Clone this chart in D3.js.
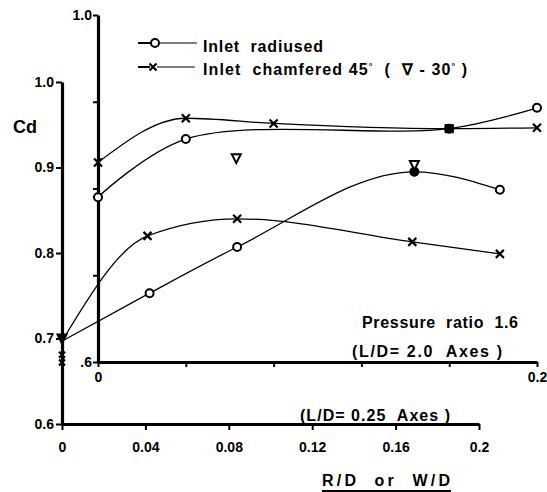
<!DOCTYPE html>
<html>
<head>
<meta charset="utf-8">
<script src="https://cdn.jsdelivr.net/npm/d3@7"></script>
<style>
body{margin:0;background:#fff;}
svg text{font-family:"Liberation Sans",Arial,sans-serif;font-weight:bold;fill:#000;white-space:pre;}
</style>
</head>
<body>
<div id="display"></div>
<script>
// L/D = 0.25 axes (outer)
var radX025 = [0, 0.042, 0.084, 0.169, 0.21]
var radCd025 = [0.697, 0.753, 0.807, 0.895, 0.874]
var chamX025 = [0, 0.041, 0.084, 0.168, 0.21]
var chamCd025 = [0.697, 0.82, 0.84, 0.813, 0.799]
var chamExtraCd025 = [0.681, 0.672]   // extra x marks at R/D = 0

// L/D = 2.0 axes (inner)
var radX20 = [0, 0.04, 0.16, 0.2]
var radCd20 = [0.79, 0.857, 0.869, 0.893]
var chamX20 = [0, 0.04, 0.08, 0.16, 0.2]
var chamCd20 = [0.83, 0.881, 0.875, 0.869, 0.87]

// 30 deg chamfer (triangles)
var triX025 = [0, 0.169]
var triCd025 = [0.7, 0.903]
var triX20 = [0.063]
var triCd20 = [0.835]

var outerXTicks = [0, 0.04, 0.08, 0.12, 0.16, 0.2]
var outerXLabels = ["0", "0.04", "0.08", "0.12", "0.16", "0.2"]
var outerYTicks = [0.6, 0.7, 0.8, 0.9, 1.0]
var outerYLabels = ["0.6", "0.7", "0.8", "0.9", "1.0"]
var innerXTicks = [0, 0.04, 0.08, 0.12, 0.16, 0.2]
var innerXLabels = ["0", "", "", "", "", "0.2"]
var innerYTicks = [0.6, 0.7, 0.8, 0.9, 1.0]
var innerYLabels = [".6", "", "", "", "1.0"]

var width = 547, height = 492;

var xO = d3.scaleLinear().domain([0, 0.2]).range([62, 479]);
var yO = d3.scaleLinear().domain([0.6, 1.0]).range([424, 82]);
var xI = d3.scaleLinear().domain([0, 0.2]).range([98, 537]);
var yI = d3.scaleLinear().domain([0.6, 1.0]).range([362, 15]);

var svg = d3.select("#display")
    .append("svg")
    .attr("width", width)
    .attr("height", height);

function styleAxis(g, fs) {
  g.select(".domain").attr("stroke-width", 3.2).attr("stroke", "#000");
  g.selectAll(".tick line").attr("stroke-width", 2).attr("stroke", "#000");
  g.selectAll(".tick text").style("font-size", fs + "px").attr("fill", "#000");
}

// outer axes
svg.append("g")
    .attr("transform", "translate(" + xO(0) + ",0)")
    .call(d3.axisLeft(yO).tickValues(outerYTicks).tickSize(6).tickPadding(2).tickSizeOuter(0)
      .tickFormat((d, i) => outerYLabels[i]))
    .call(g => styleAxis(g, 14));

svg.append("g")
    .attr("transform", "translate(0," + yO(0.6) + ")")
    .call(d3.axisBottom(xO).tickValues(outerXTicks).tickSize(6).tickPadding(12).tickSizeOuter(0)
      .tickFormat((d, i) => outerXLabels[i]))
    .call(g => styleAxis(g, 14));

// inner axes
svg.append("g")
    .attr("transform", "translate(" + xI(0) + ",0)")
    .call(d3.axisLeft(yI).tickValues(innerYTicks).tickSize(5).tickPadding(1).tickSizeOuter(0)
      .tickFormat((d, i) => innerYLabels[i]))
    .call(g => styleAxis(g, 14));

svg.append("g")
    .attr("transform", "translate(0," + yI(0.6) + ")")
    .call(d3.axisBottom(xI).tickValues(innerXTicks).tickSize(5).tickPadding(5).tickSizeOuter(0)
      .tickFormat((d, i) => innerXLabels[i]))
    .call(g => styleAxis(g, 14));

// curves
function series(xs, ys) { return xs.map((x, i) => [x, ys[i]]); }

var curves = [
  {pts: series(radX025, radCd025), x: xO, y: yO, c: d3.curveMonotoneX},
  {pts: series(chamX025, chamCd025), x: xO, y: yO, c: d3.curveMonotoneX},
  {pts: series(radX20, radCd20), x: xI, y: yI, c: d3.curveCatmullRom.alpha(0.5)},
  {pts: series(chamX20, chamCd20), x: xI, y: yI, c: d3.curveMonotoneX}
];

curves.forEach(c => {
  var line = d3.line()
      .x(d => c.x(d[0]))
      .y(d => c.y(d[1]))
      .curve(c.c);
  svg.append("path")
      .attr("d", line(c.pts))
      .attr("fill", "none")
      .attr("stroke", "#000")
      .attr("stroke-width", 1.3);
});

// markers
function circles(pts, sx, sy, r) {
  svg.append("g").selectAll("circle")
    .data(pts)
    .join("circle")
      .attr("cx", d => sx(d[0]))
      .attr("cy", d => sy(d[1]))
      .attr("r", r || 4)
      .attr("fill", "#fff")
      .attr("stroke", "#000")
      .attr("stroke-width", 2);
}

function crosses(pts, sx, sy, s) {
  s = s || 4;
  svg.append("g").selectAll("path")
    .data(pts)
    .join("path")
      .attr("d", d => {
        var cx = sx(d[0]), cy = sy(d[1]);
        return "M" + (cx - s) + "," + (cy - s) + "L" + (cx + s) + "," + (cy + s) +
               "M" + (cx + s) + "," + (cy - s) + "L" + (cx - s) + "," + (cy + s);
      })
      .attr("stroke", "#000")
      .attr("stroke-width", 2.2);
}

function triangles(pts, sx, sy, filled) {
  svg.append("g").selectAll("path")
    .data(pts)
    .join("path")
      .attr("d", d => {
        var cx = sx(d[0]), cy = sy(d[1]);
        return "M" + (cx - 4.5) + "," + (cy - 4) + "L" + (cx + 4.5) + "," + (cy - 4) +
               "L" + cx + "," + (cy + 5) + "Z";
      })
      .attr("fill", (d, i) => filled[i] ? "#000" : "#fff")
      .attr("stroke", "#000")
      .attr("stroke-width", 2);
}

circles(series(radX025, radCd025).slice(1), xO, yO);
crosses(series(chamX025, chamCd025).slice(1), xO, yO);
crosses(chamExtraCd025.map(v => [0, v]), xO, yO, 3);
circles(series(radX20, radCd20), xI, yI);
crosses(series(chamX20, chamCd20), xI, yI);

// overlapping points drawn solid
var sq = [radX20[2], radCd20[2]];
svg.append("rect")
    .attr("x", xI(sq[0]) - 4.5).attr("y", yI(sq[1]) - 4.5)
    .attr("width", 9).attr("height", 9)
    .attr("fill", "#000");

var dot = [radX025[3], radCd025[3]];
svg.append("circle")
    .attr("cx", xO(dot[0])).attr("cy", yO(dot[1]))
    .attr("r", 4.5).attr("fill", "#000");

triangles(series(triX025, triCd025), xO, yO, [true, false]);
triangles(series(triX20, triCd20), xI, yI, [false]);

// labels
function label(txt, x, y, fs, len) {
  var t = svg.append("text")
      .attr("x", x).attr("y", y)
      .style("font-size", fs + "px")
      .text(txt);
  if (len) t.attr("textLength", len).attr("lengthAdjust", "spacing");
  return t;
}

label("Cd", 13, 133, 18);

// legend
var lg = svg.append("g");
lg.append("line").attr("x1", 138).attr("x2", 151).attr("y1", 43).attr("y2", 43)
  .attr("stroke", "#000").attr("stroke-width", 2);
lg.append("line").attr("x1", 159).attr("x2", 197).attr("y1", 43).attr("y2", 43)
  .attr("stroke", "#000").attr("stroke-width", 1.2);
lg.append("circle").attr("cx", 155).attr("cy", 43).attr("r", 4)
  .attr("fill", "#fff").attr("stroke", "#000").attr("stroke-width", 2);
lg.append("line").attr("x1", 138).attr("x2", 150).attr("y1", 67).attr("y2", 67)
  .attr("stroke", "#000").attr("stroke-width", 2);
lg.append("line").attr("x1", 157).attr("x2", 195).attr("y1", 67).attr("y2", 67)
  .attr("stroke", "#000").attr("stroke-width", 1.2);
lg.append("path")
  .attr("d", "M149.5,63.5L156.5,70.5M156.5,63.5L149.5,70.5")
  .attr("stroke", "#000").attr("stroke-width", 2.2);

label("Inlet  radiused", 203, 52, 16, 120);
var t2 = label("", 203, 75, 16);
t2.append("tspan").text("Inlet  chamfered 45");
t2.append("tspan").attr("dy", -6).style("font-size", "9px").text("°");
t2.append("tspan").attr("dy", 6).text("  (  ∇ - 30");
t2.append("tspan").attr("dy", -6).style("font-size", "9px").text("°");
t2.append("tspan").attr("dy", 6).text(" )");
t2.attr("textLength", 264).attr("lengthAdjust", "spacing");

label("Pressure  ratio  1.6", 362, 328, 16, 156);
label("(L/D= 2.0  Axes )", 352, 357, 16, 150);
label("(L/D= 0.25  Axes )", 300, 421, 16, 150);

label("R/D  or  W/D", 322, 486, 16, 128);
svg.append("line")
    .attr("x1", 322).attr("x2", 451).attr("y1", 491).attr("y2", 491)
    .attr("stroke", "#000").attr("stroke-width", 2);
</script>
</body>
</html>
